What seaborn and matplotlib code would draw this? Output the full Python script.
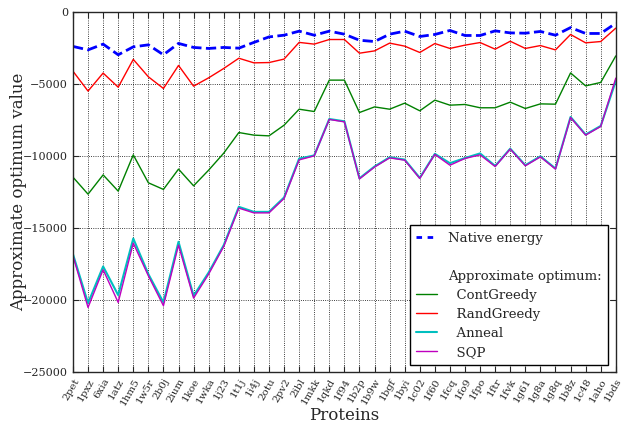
import numpy as np
import pandas as pd
import matplotlib
matplotlib.use("Agg")
import matplotlib.pyplot as plt
from matplotlib.lines import Line2D
import seaborn as sns

proteins = ["2pet", "1pxz", "6xia", "1atz", "1hm5", "1w5r", "2b0j", "2ium", "1koe",
            "1wka", "1j23", "1t1j", "1i4j", "2otu", "2pv2", "2ibl", "1mkk", "1qkd",
            "1f94", "1b2p", "1b9w", "1bgf", "1byi", "1c02", "1f60", "1fcq", "1fo9",
            "1fpo", "1ftr", "1fvk", "1g61", "1g8a", "1g8q", "1b8z", "1c48", "1aho", "1bds"]

native = [-2400, -2640, -2240, -2980, -2430, -2290, -2980, -2190, -2470,
          -2540, -2470, -2520, -2120, -1740, -1620, -1340, -1620, -1340,
          -1550, -1970, -2060, -1550, -1340, -1710, -1570, -1290, -1640,
          -1640, -1320, -1460, -1480, -1360, -1620, -1090, -1500, -1500, -790]

rand_greedy = [-4120, -5500, -4250, -5230, -3300, -4510, -5320, -3720, -5160,
               -4580, -3930, -3220, -3540, -3520, -3280, -2120, -2240, -1920,
               -1920, -2870, -2710, -2170, -2380, -2820, -2200, -2540, -2310,
               -2130, -2590, -2040, -2540, -2340, -2640, -1570, -2150, -2060, -1130]

cont_greedy = [-11480, -12660, -11320, -12450, -9930, -11870, -12330, -10920, -12080,
               -10990, -9810, -8380, -8560, -8610, -7870, -6760, -6920, -4740,
               -4740, -6990, -6600, -6760, -6340, -6870, -6130, -6480, -6430,
               -6660, -6660, -6270, -6710, -6390, -6410, -4240, -5140, -4900, -3060]

anneal = [-16830, -20230, -17680, -19670, -15740, -18210, -20180, -15970, -19720,
          -18100, -16200, -13540, -13890, -13890, -12890, -10190, -9970, -7440,
          -7600, -11560, -10740, -10100, -10260, -11530, -9860, -10510, -10150,
          -9830, -10700, -9500, -10650, -10030, -10880, -7300, -8520, -7920, -4800]

sqp = [-16940, -20530, -17910, -20180, -16060, -18330, -20410, -16200, -19880,
       -18210, -16290, -13630, -13960, -13960, -12960, -10280, -10000, -7470,
       -7640, -11600, -10780, -10140, -10300, -11570, -9900, -10650, -10180,
       -9930, -10740, -9530, -10690, -10070, -10920, -7340, -8560, -7960, -4600]

df = pd.DataFrame({
    "protein": proteins,
    "native": native,
    "cont": cont_greedy,
    "rand": rand_greedy,
    "anneal": anneal,
    "sqp": sqp,
})

sns.set_style("ticks")
plt.rcParams["font.family"] = ["DejaVu Serif"]
plt.rcParams["xtick.direction"] = "in"
plt.rcParams["ytick.direction"] = "in"

fig = plt.figure(figsize=(6.29, 4.24), dpi=100)
ax = fig.add_axes([0.116, 0.123, 0.863, 0.849])

sns.lineplot(data=df, x="protein", y="cont", sort=False, color=(0, 0.5, 0), lw=1, ax=ax)
sns.lineplot(data=df, x="protein", y="rand", sort=False, color="red", lw=1, ax=ax)
sns.lineplot(data=df, x="protein", y="anneal", sort=False, color=(0, 0.75, 0.75), lw=1.5, ax=ax)
sns.lineplot(data=df, x="protein", y="sqp", sort=False, color=(0.75, 0, 0.75), lw=1, ax=ax)
sns.lineplot(data=df, x="protein", y="native", sort=False, color="blue", lw=2,
             linestyle="--", dashes=(2, 2), ax=ax)

ax.set_xlim(0, len(proteins) - 1)
ax.set_ylim(-25000, 0)
ax.set_yticks(np.arange(-25000, 1, 5000))
ax.tick_params(axis="x", labelsize=7.5, rotation=60, top=True, length=4)
ax.tick_params(axis="y", labelsize=8, right=True, length=4)
for lbl in ax.get_xticklabels():
    lbl.set_ha("right")
    lbl.set_rotation_mode("anchor")
ax.grid(True, color="black", linestyle=":", linewidth=0.6)
for s in ax.spines.values():
    s.set_linewidth(1)
ax.set_xlabel("Proteins", fontsize=12, labelpad=0)
ax.set_ylabel("Approximate optimum value", fontsize=12, labelpad=-3)

blank = Line2D([], [], linestyle="none")
handles = [
    Line2D([], [], color="blue", lw=2, linestyle="--", dashes=(2, 2)),
    blank, blank,
    Line2D([], [], color=(0, 0.5, 0), lw=1),
    Line2D([], [], color="red", lw=1),
    Line2D([], [], color=(0, 0.75, 0.75), lw=1.5),
    Line2D([], [], color=(0.75, 0, 0.75), lw=1),
]
labels = ["Native energy", "", "Approximate optimum:", "  ContGreedy",
          "  RandGreedy", "  Anneal", "  SQP"]
leg = ax.legend(handles, labels, loc="lower right", fontsize=9.5, frameon=True,
                fancybox=False, edgecolor="black", framealpha=1,
                handlelength=1.6, labelspacing=0.45, borderpad=0.5,
                bbox_to_anchor=(0.998, 0.0))
leg.get_frame().set_linewidth(1)

fig.savefig("out.png", dpi=100)
